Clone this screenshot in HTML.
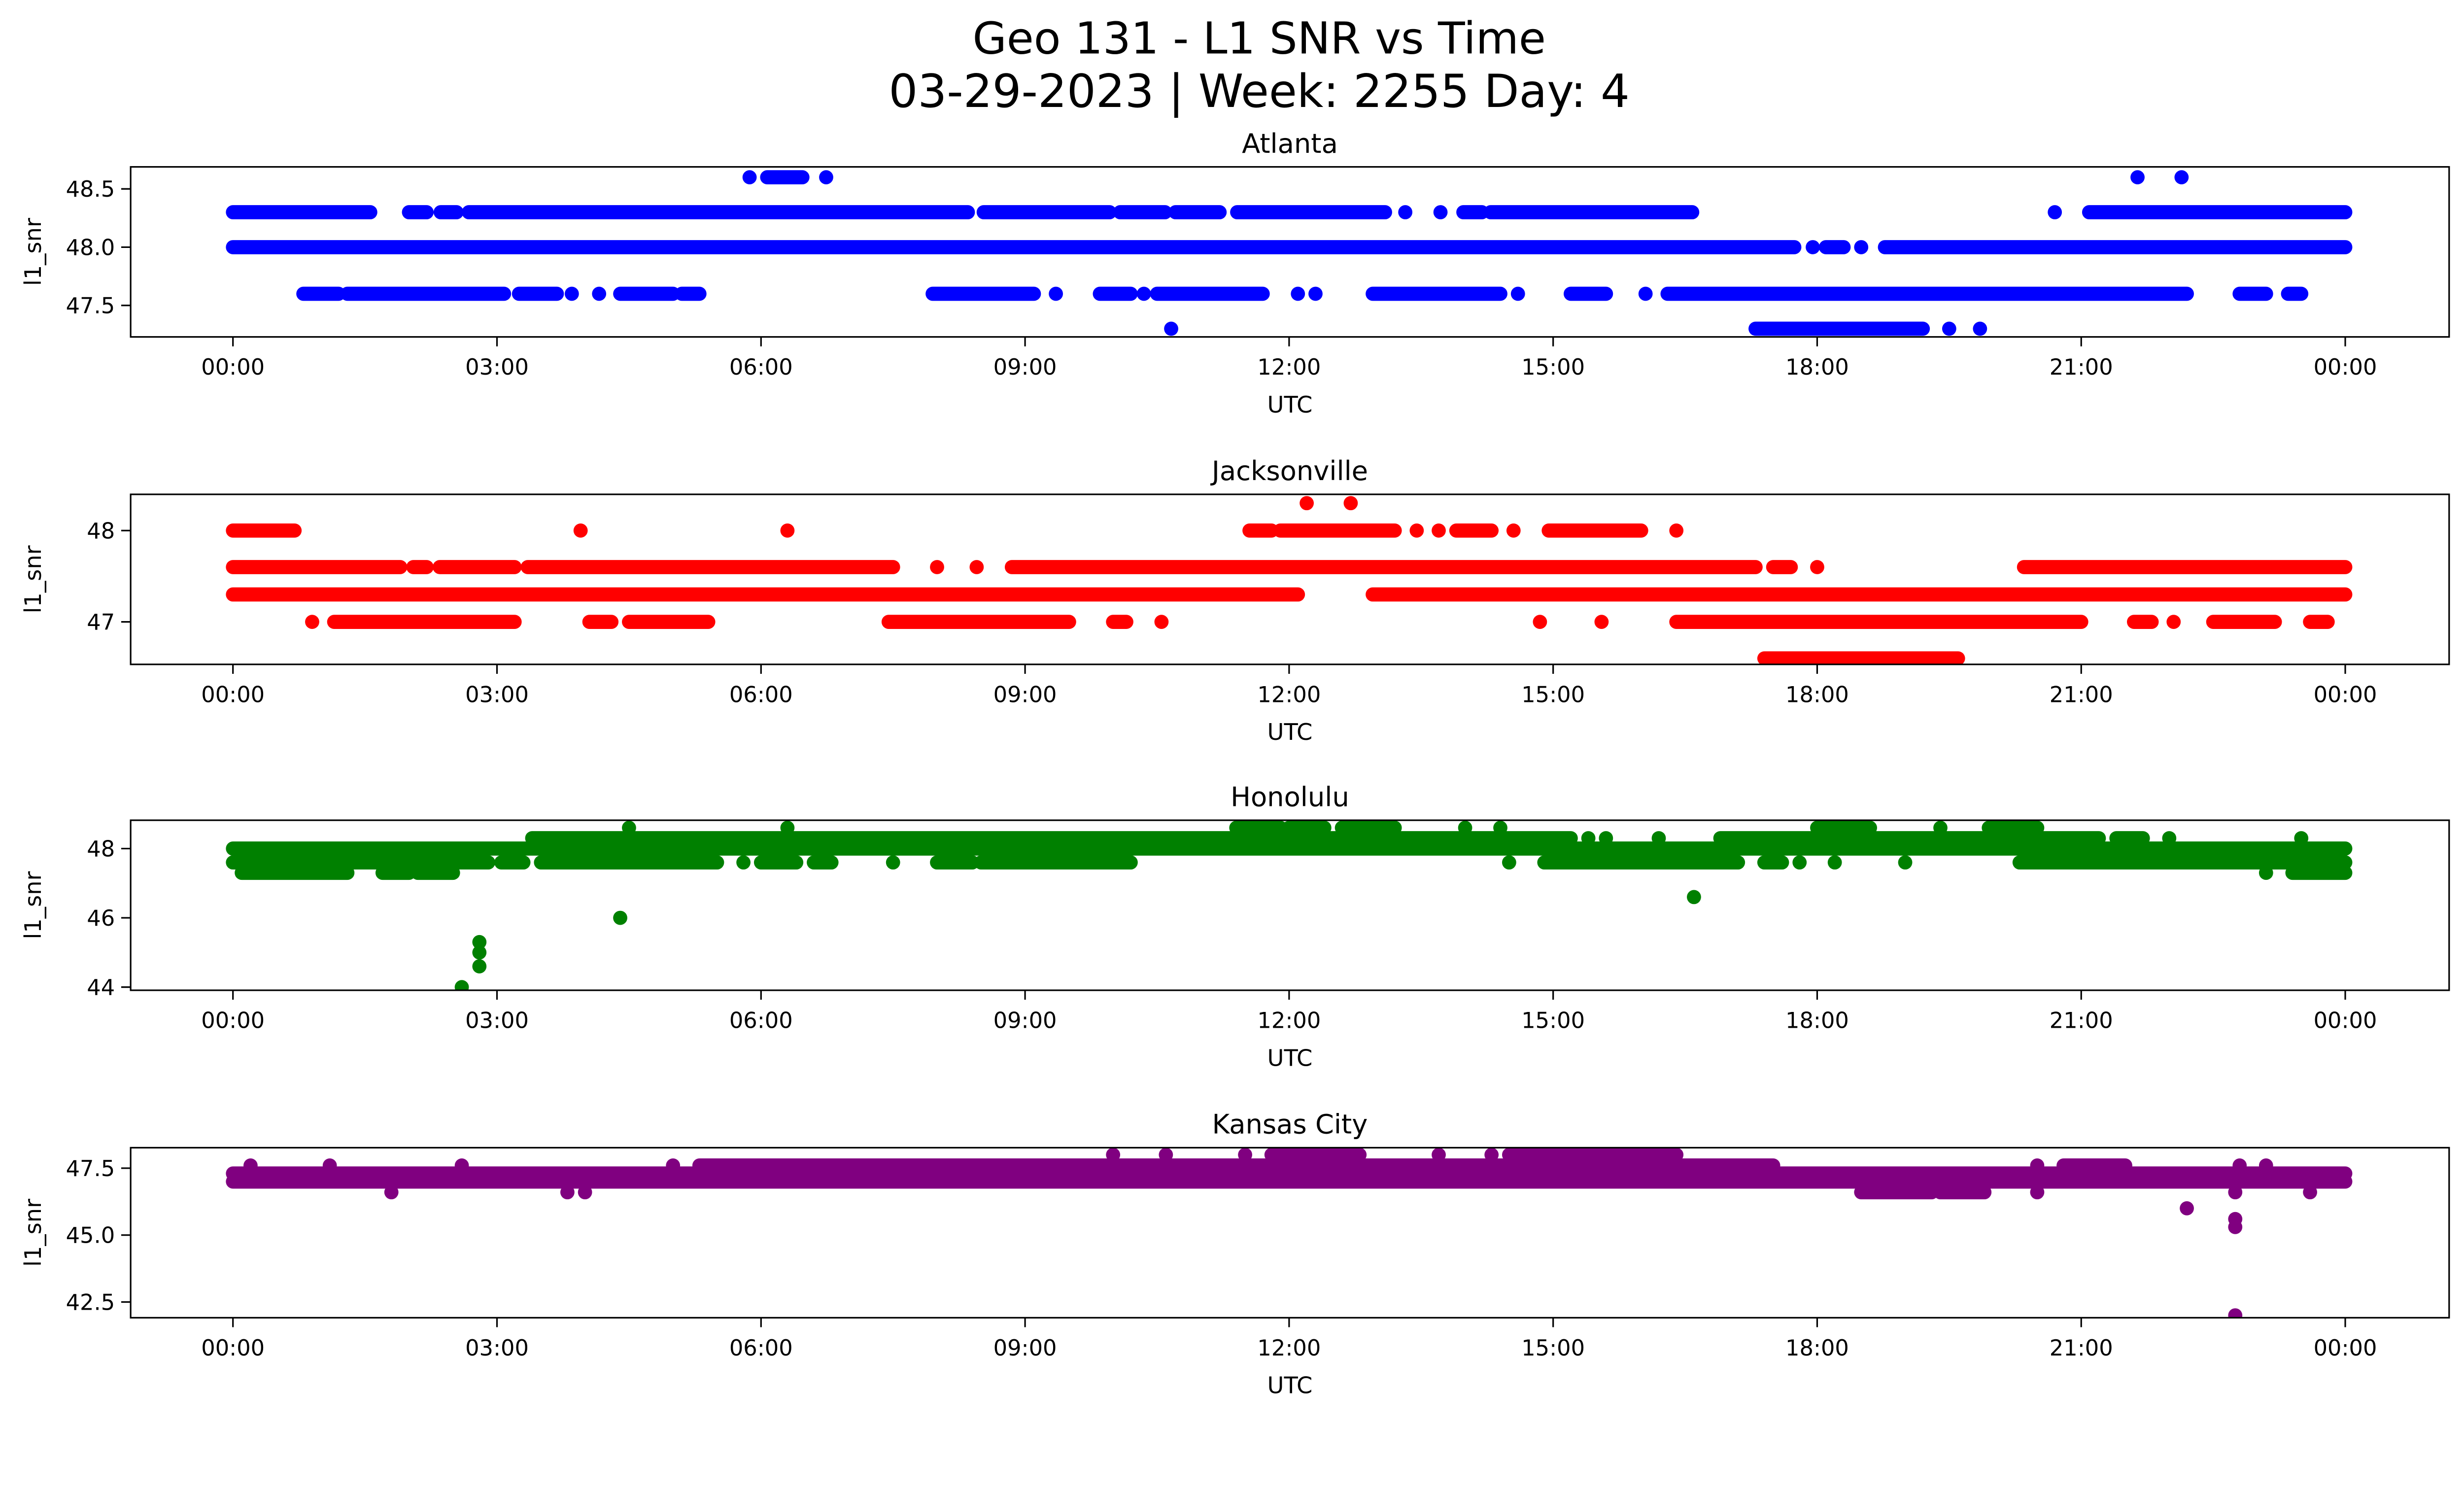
<!DOCTYPE html>
<html><head><meta charset="utf-8">
<style>
html,body{margin:0;padding:0;background:#fff;overflow:hidden;}
svg{display:block;}
text{font-family:"DejaVu Sans","Liberation Sans",sans-serif;fill:#000;}
</style></head>
<body>
<svg id="chart" width="5279" height="3033" viewBox="0 0 1652.7 949.6" preserveAspectRatio="xMinYMin meet" xmlns="http://www.w3.org/2000/svg">
<rect width="1652.7" height="949.6" fill="#fff"/>
<text x="800" y="34" font-size="28" text-anchor="middle">Geo 131 - L1 SNR vs Time</text>
<text x="800" y="68" font-size="29" text-anchor="middle">03-29-2023 | Week: 2255 Day: 4</text>
<g id="plots"></g>
</svg>
<script>
// x tick labels (hours)
const xTickHours = [0,3,6,9,12,15,18,21,24];
const xTickLabels = ["00:00","03:00","06:00","09:00","12:00","15:00","18:00","21:00","00:00"];
const panelNames = ["Atlanta","Jacksonville","Honolulu","Kansas City"];
const panelColors = ["#0000ff","#ff0000","#008000","#800080"];
// y ticks per panel
const yTicksAtl = [47.5,48.0,48.5];
const yTicksJax = [47,48];
const yTicksHon = [44,46,48];
const yTicksKC = [42.5,45.0,47.5];
const yTickFmt = [1,0,0,1];
// data runs: [startHour, endHour, snr]; single points have start==end
const atlantaRuns = [
 [5.87,5.87,48.6],[6.07,6.47,48.6],[6.74,6.74,48.6],[21.64,21.64,48.6],[22.14,22.14,48.6],
 [0,1.56,48.3],[2.0,2.2,48.3],[2.36,2.54,48.3],[2.68,8.35,48.3],[8.53,9.96,48.3],[10.08,10.59,48.3],[10.71,11.21,48.3],[11.41,13.09,48.3],[13.32,13.32,48.3],[13.72,13.72,48.3],[13.98,14.19,48.3],[14.29,16.58,48.3],[20.7,20.7,48.3],[21.09,24,48.3],
 [0,17.74,48.0],[17.95,17.95,48.0],[18.1,18.3,48.0],[18.5,18.5,48.0],[18.77,24,48.0],
 [0.8,1.2,47.6],[1.3,3.08,47.6],[3.25,3.68,47.6],[3.85,3.85,47.6],[4.16,4.16,47.6],[4.4,5.0,47.6],[5.1,5.3,47.6],[7.95,9.1,47.6],[9.35,9.35,47.6],[9.85,10.2,47.6],[10.35,10.35,47.6],[10.5,11.7,47.6],[12.1,12.1,47.6],[12.3,12.3,47.6],[12.95,14.4,47.6],[14.6,14.6,47.6],[15.2,15.6,47.6],[16.05,16.05,47.6],[16.3,22.2,47.6],[22.8,23.1,47.6],[23.35,23.5,47.6],
 [10.66,10.66,47.3],[17.3,19.2,47.3],[19.5,19.5,47.3],[19.85,19.85,47.3]
];
const jaxRuns = [
 [12.2,12.2,48.3],[12.7,12.7,48.3],
 [0,0.7,48.0],[3.95,3.95,48.0],[6.3,6.3,48.0],[11.55,11.8,48.0],[11.9,13.2,48.0],[13.45,13.45,48.0],[13.7,13.7,48.0],[13.9,14.3,48.0],[14.55,14.55,48.0],[14.95,16.0,48.0],[16.4,16.4,48.0],
 [0,1.9,47.6],[2.05,2.2,47.6],[2.35,3.2,47.6],[3.35,7.5,47.6],[8.0,8.0,47.6],[8.45,8.45,47.6],[8.85,17.3,47.6],[17.5,17.7,47.6],[18.0,18.0,47.6],[20.35,24,47.6],
 [0,12.1,47.3],[12.95,24,47.3],
 [0.9,0.9,47.0],[1.15,3.2,47.0],[4.05,4.3,47.0],[4.5,5.4,47.0],[7.45,9.5,47.0],[10.0,10.15,47.0],[10.55,10.55,47.0],[14.85,14.85,47.0],[15.55,15.55,47.0],[16.4,21.0,47.0],[21.6,21.8,47.0],[22.05,22.05,47.0],[22.5,23.2,47.0],[23.6,23.8,47.0],
 [17.4,19.6,46.6]
];
const honoluluRuns = [
 [4.5,4.5,48.6],[6.3,6.3,48.6],[11.4,11.9,48.6],[12.0,12.4,48.6],[12.6,13.2,48.6],[14.0,14.0,48.6],[14.4,14.4,48.6],[18.0,18.6,48.6],[19.4,19.4,48.6],[19.95,20.5,48.6],
 [3.4,15.2,48.3],[15.4,15.4,48.3],[15.6,15.6,48.3],[16.2,16.2,48.3],[16.9,21.2,48.3],[21.4,21.7,48.3],[22.0,22.0,48.3],[23.5,23.5,48.3],
 [0,24,48.0],
 [0,2.9,47.6],[3.05,3.3,47.6],[3.5,5.5,47.6],[5.8,5.8,47.6],[6.0,6.4,47.6],[6.6,6.8,47.6],[7.5,7.5,47.6],[8.0,8.4,47.6],[8.5,10.2,47.6],[14.5,14.5,47.6],[14.9,17.1,47.6],[17.4,17.6,47.6],[17.8,17.8,47.6],[18.2,18.2,47.6],[19.0,19.0,47.6],[20.3,24,47.6],
 [0.1,1.3,47.3],[1.7,2.0,47.3],[2.1,2.5,47.3],[23.1,23.1,47.3],[23.4,24,47.3],
 [2.6,2.6,44.0],[2.8,2.8,44.6],[2.8,2.8,45.0],[2.8,2.8,45.3],[4.4,4.4,46.0],[16.6,16.6,46.6]
];
const kcRuns = [
 [10.0,10.0,48.0],[10.6,10.6,48.0],[11.5,11.5,48.0],[11.8,12.8,48.0],[13.7,13.7,48.0],[14.3,14.3,48.0],[14.5,16.4,48.0],
 [0.2,0.2,47.6],[1.1,1.1,47.6],[2.6,2.6,47.6],[5.0,5.0,47.6],[5.3,17.5,47.6],[20.5,20.5,47.6],[20.8,21.5,47.6],[22.8,22.8,47.6],[23.1,23.1,47.6],
 [0,24,47.3],[0,24,47.0],
 [1.8,1.8,46.6],[3.8,3.8,46.6],[4.0,4.0,46.6],[18.5,19.3,46.6],[19.4,19.9,46.6],[20.5,20.5,46.6],[22.75,22.75,46.6],[23.6,23.6,46.6],
 [22.2,22.2,46.0],[22.75,22.75,45.6],[22.75,22.75,45.3],[22.75,22.75,42.0]
];
const allRuns = [atlantaRuns, jaxRuns, honoluluRuns, kcRuns];
const allYTicks = [yTicksAtl, yTicksJax, yTicksHon, yTicksKC];

const axL = 83, axR = 1556, axH = 108;
const axTops = [106,314,521,729];
const yRef = [[48.0,51,74],[48,23,58],[48,18,22],[47.5,13,17]];
const NS = "http://www.w3.org/2000/svg";
function xScale(h){ return 148 + h*(1490-148)/24; }
function yScale(p,v){ return axTops[p] + yRef[p][1] - (v-yRef[p][0])*yRef[p][2]; }
function mk(tag, attrs, parent){ const e=document.createElementNS(NS,tag); for(const k in attrs) e.setAttribute(k,attrs[k]); parent.appendChild(e); return e; }

const root = document.getElementById('plots');
for (let p=0;p<4;p++){
  const top = axTops[p];
  const g = mk('g',{},root);
  
  
  const clipId='clip'+p;
  const cp = mk('clipPath',{id:clipId},g);
  mk('rect',{x:axL,y:top,width:axR-axL,height:axH},cp);
  const marks = mk('g',{'clip-path':'url(#'+clipId+')'},g);
  
  
  for (const r of allRuns[p]){
    const x1=xScale(r[0]), x2=xScale(r[1]), y=yScale(p,r[2]);
    const ln = mk('line',{x1:x1,y1:y,x2:x2+0.01,y2:y,stroke:panelColors[p],'stroke-width':9,'stroke-linecap':'round'},marks);
    
    
  }
  const frame = mk('rect',{x:axL,y:top,width:axR-axL,height:axH,fill:'none',stroke:'#000','stroke-width':1},g);
  
  
  for (let i=0;i<xTickHours.length;i++){
    const x=xScale(xTickHours[i]);
    mk('line',{x1:x,y1:top+axH,x2:x,y2:top+axH+6,stroke:'#000','stroke-width':1},g);
    const t = mk('text',{x:x,y:top+axH+24,'font-size':14,'text-anchor':'middle'},g);
    t.textContent = xTickLabels[i];
    
    
  }
  for (const v of allYTicks[p]){
    const y=yScale(p,v);
    mk('line',{x1:axL-6,y1:y,x2:axL,y2:y,stroke:'#000','stroke-width':1},g);
    const t = mk('text',{x:axL-10,y:y+5,'font-size':14,'text-anchor':'end'},g);
    t.textContent = v.toFixed(yTickFmt[p]);
    
    
  }
  const tt = mk('text',{x:(axL+axR)/2,y:top-9,'font-size':17,'text-anchor':'middle'},g);
  tt.textContent = panelNames[p];
  
  
  const xl = mk('text',{x:(axL+axR)/2,y:top+axH+48,'font-size':14.5,'text-anchor':'middle'},g);
  xl.textContent = 'UTC';
  
  
  const yl = mk('text',{x:0,y:0,'font-size':14.5,'text-anchor':'middle',transform:'translate(26,'+(top+axH/2)+') rotate(-90)'},g);
  yl.textContent = 'l1_snr';
  
  
}
</script>
</body></html>
